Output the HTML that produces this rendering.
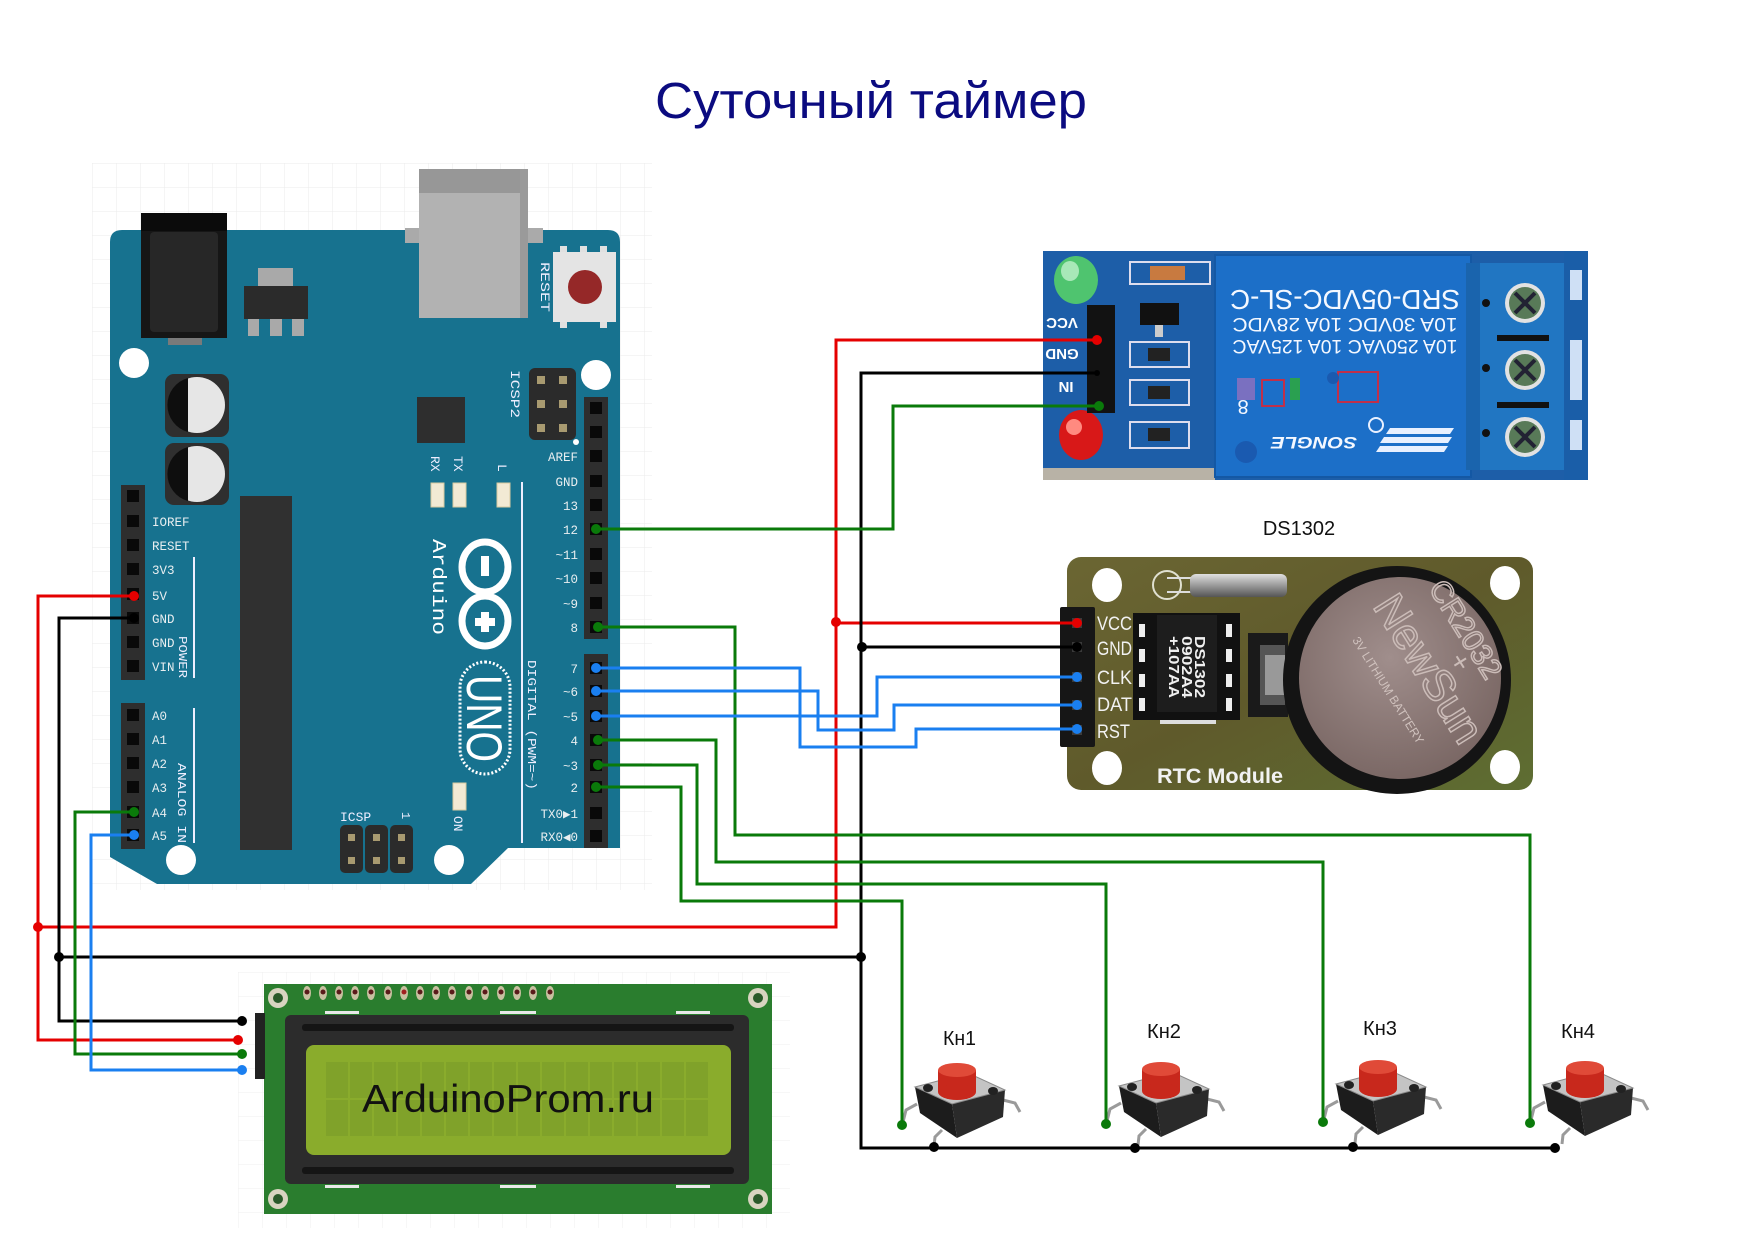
<!DOCTYPE html>
<html><head><meta charset="utf-8"><style>
html,body{margin:0;padding:0;background:#fff}
svg{display:block}
</style></head><body>
<svg width="1754" height="1240" viewBox="0 0 1754 1240" xmlns="http://www.w3.org/2000/svg">
<defs>
<pattern id="grid" width="24" height="24" patternUnits="userSpaceOnUse" x="92" y="163"><path d="M24 0H0V24" fill="none" stroke="#ebebeb" stroke-width="1"/></pattern>
<pattern id="grid2" width="24" height="24" patternUnits="userSpaceOnUse" x="238" y="972"><path d="M24 0H0V24" fill="none" stroke="#efefef" stroke-width="1"/></pattern>
<linearGradient id="rtcg" x1="0" y1="0" x2="1" y2="1"><stop offset="0" stop-color="#6b6633"/><stop offset="0.5" stop-color="#5f5a2b"/><stop offset="1" stop-color="#5e6e32"/></linearGradient>
<radialGradient id="coin" cx="0.45" cy="0.4" r="0.7"><stop offset="0" stop-color="#a08e8c"/><stop offset="1" stop-color="#75625f"/></radialGradient>
<linearGradient id="xtal" x1="0" y1="0" x2="0" y2="1"><stop offset="0" stop-color="#e0e0e0"/><stop offset="0.5" stop-color="#9a9a9a"/><stop offset="1" stop-color="#555"/></linearGradient>
</defs>
<rect width="1754" height="1240" fill="#fff"/>

<!-- Title -->
<text x="655" y="118" font-family="Liberation Sans, sans-serif" font-size="51" fill="#0b0b80" textLength="432" lengthAdjust="spacingAndGlyphs">Суточный таймер</text>

<!-- grid backgrounds -->
<rect x="92" y="163" width="560" height="727" fill="url(#grid)"/>
<rect x="238" y="972" width="552" height="256" fill="url(#grid2)"/>

<!-- ===== ARDUINO ===== -->
<path d="M122,230 H608 Q620,230 620,242 V848 H508 L471,884 H157 L110,857 V242 Q110,230 122,230 Z" fill="#17728f"/>
<rect x="141" y="213" width="86" height="125" fill="#161616"/>
<rect x="150" y="232" width="68" height="100" rx="4" fill="#272727"/>
<rect x="141" y="213" width="86" height="18" fill="#0b0b0b"/>
<rect x="168" y="338" width="34" height="7" fill="#7a7a7a"/>
<rect x="405" y="228" width="138" height="15" fill="#aaa"/>
<rect x="419" y="169" width="109" height="149" fill="#b2b2b2"/>
<rect x="419" y="169" width="109" height="24" fill="#979797"/>
<rect x="520" y="169" width="8" height="149" fill="#9a9a9a"/>
<rect x="258" y="268" width="35" height="18" fill="#a9a9a9"/>
<rect x="244" y="286" width="64" height="33" fill="#2b2b2b"/>
<rect x="248" y="319" width="11" height="17" fill="#a9a9a9"/>
<rect x="270" y="319" width="12" height="17" fill="#a9a9a9"/>
<rect x="292" y="319" width="12" height="17" fill="#a9a9a9"/>
<rect x="560" y="246" width="7" height="8" fill="#e0e0e0"/><rect x="580" y="246" width="7" height="8" fill="#e0e0e0"/><rect x="600" y="246" width="7" height="8" fill="#e0e0e0"/>
<rect x="560" y="320" width="7" height="8" fill="#e0e0e0"/><rect x="600" y="320" width="7" height="8" fill="#e0e0e0"/>
<rect x="553" y="252" width="63" height="70" fill="#e4e4e4"/>
<circle cx="585" cy="287" r="17" fill="#952828"/>
<text transform="translate(541,262) rotate(90)" font-family="Liberation Mono, monospace" font-size="13" fill="#eef" textLength="50" lengthAdjust="spacingAndGlyphs">RESET</text>
<circle cx="134" cy="363" r="15" fill="#fff"/>
<circle cx="596" cy="375" r="15" fill="#fff"/>
<circle cx="181" cy="860" r="15" fill="#fff"/>
<circle cx="449" cy="860" r="15" fill="#fff"/>
<rect x="165" y="374" width="64" height="63" rx="9" fill="#2f2f2f"/>
<circle cx="197" cy="405" r="28" fill="#e6e6e6"/>
<path d="M188,378 A28,28 0 0 0 188,432 Z" fill="#0e0e0e"/>
<rect x="165" y="443" width="64" height="62" rx="9" fill="#2f2f2f"/>
<circle cx="197" cy="474" r="28" fill="#e6e6e6"/>
<path d="M188,447 A28,28 0 0 0 188,501 Z" fill="#0e0e0e"/>
<rect x="417" y="397" width="48" height="46" fill="#2e2e2e"/>
<rect x="240" y="496" width="52" height="354" fill="#303030"/>
<rect x="529" y="368" width="47" height="72" rx="6" fill="#2b2b2b"/>
<g fill="#a89a70"><rect x="537" y="376" width="8" height="8"/><rect x="559" y="376" width="8" height="8"/><rect x="537" y="400" width="8" height="8"/><rect x="559" y="400" width="8" height="8"/><rect x="537" y="424" width="8" height="8"/><rect x="559" y="424" width="8" height="8"/></g>
<circle cx="576" cy="442" r="3" fill="#fff"/>
<text transform="translate(511,370) rotate(90)" font-family="Liberation Mono, monospace" font-size="13" fill="#eef" textLength="48" lengthAdjust="spacingAndGlyphs">ICSP2</text>
<rect x="431" y="483" width="13" height="24" fill="#f2ead4" stroke="#d8c9a0"/>
<rect x="453" y="483" width="13" height="24" fill="#f2ead4" stroke="#d8c9a0"/>
<rect x="497" y="483" width="13" height="24" fill="#f2ead4" stroke="#d8c9a0"/>
<text transform="translate(431,456) rotate(90)" font-family="Liberation Mono, monospace" font-size="13" fill="#eef">RX</text>
<text transform="translate(454,456) rotate(90)" font-family="Liberation Mono, monospace" font-size="13" fill="#eef">TX</text>
<text transform="translate(498,464) rotate(90)" font-family="Liberation Mono, monospace" font-size="13" fill="#eef">L</text>
<rect x="453" y="783" width="13" height="27" fill="#f2ead4" stroke="#d8c9a0"/>
<text transform="translate(454,816) rotate(90)" font-family="Liberation Mono, monospace" font-size="13" fill="#eef">ON</text>
<g fill="#2b2b2b"><rect x="340" y="825" width="23" height="48" rx="5"/><rect x="365" y="825" width="23" height="48" rx="5"/><rect x="390" y="825" width="23" height="48" rx="5"/></g>
<g fill="#a89a70"><rect x="348" y="834" width="7" height="7"/><rect x="373" y="834" width="7" height="7"/><rect x="398" y="834" width="7" height="7"/><rect x="348" y="857" width="7" height="7"/><rect x="373" y="857" width="7" height="7"/><rect x="398" y="857" width="7" height="7"/></g>
<text x="340" y="821" font-family="Liberation Mono, monospace" font-size="13" fill="#eef">ICSP</text>
<text transform="translate(402,812) rotate(90)" font-family="Liberation Mono, monospace" font-size="12" fill="#eef">1</text>
<text transform="translate(433,539) rotate(90)" font-family="Liberation Mono, monospace" font-size="19" fill="#fff" textLength="96" lengthAdjust="spacingAndGlyphs">Arduino</text>
<ellipse cx="485" cy="567" rx="23" ry="25" fill="none" stroke="#fff" stroke-width="7"/>
<ellipse cx="485" cy="621" rx="23" ry="25" fill="none" stroke="#fff" stroke-width="7"/>
<rect x="481" y="556" width="8" height="20" fill="#fff"/>
<rect x="481" y="612" width="8" height="20" fill="#fff"/><rect x="475" y="618" width="20" height="8" fill="#fff"/>
<rect x="460" y="662" width="50" height="112" rx="25" fill="none" stroke="#fff" stroke-width="3" stroke-dasharray="2,2"/>
<text transform="translate(467,675) rotate(90)" font-family="Liberation Sans, sans-serif" font-size="50" fill="#fff" textLength="87" lengthAdjust="spacingAndGlyphs">UNO</text>
<rect x="193" y="557" width="2" height="121" fill="#eef"/>
<rect x="193" y="708" width="2" height="135" fill="#eef"/>
<rect x="521" y="482" width="2" height="361" fill="#eef"/>
<text transform="translate(179,636) rotate(90)" font-family="Liberation Mono, monospace" font-size="12" fill="#eef" textLength="42" lengthAdjust="spacingAndGlyphs">POWER</text>
<text transform="translate(178,763) rotate(90)" font-family="Liberation Mono, monospace" font-size="12" fill="#eef" textLength="80" lengthAdjust="spacingAndGlyphs">ANALOG IN</text>
<text transform="translate(528,660) rotate(90)" font-family="Liberation Mono, monospace" font-size="12" fill="#eef" textLength="130" lengthAdjust="spacingAndGlyphs">DIGITAL (PWM=~)</text>
<rect x="121" y="485" width="24" height="195" fill="#2e2e2e"/>
<rect x="121" y="703" width="24" height="146" fill="#2e2e2e"/>
<rect x="584" y="397" width="24" height="242" fill="#2e2e2e"/>
<rect x="584" y="654" width="24" height="194" fill="#2e2e2e"/>
<g fill="#090909">
<rect x="127" y="490" width="12" height="12"/><rect x="127" y="515" width="12" height="12"/><rect x="127" y="539" width="12" height="12"/><rect x="127" y="563" width="12" height="12"/><rect x="127" y="588" width="12" height="12"/><rect x="127" y="612" width="12" height="12"/><rect x="127" y="636" width="12" height="12"/><rect x="127" y="660" width="12" height="12"/>
<rect x="127" y="709" width="12" height="12"/><rect x="127" y="733" width="12" height="12"/><rect x="127" y="757" width="12" height="12"/><rect x="127" y="781" width="12" height="12"/><rect x="127" y="806" width="12" height="12"/><rect x="127" y="829" width="12" height="12"/>
<rect x="590" y="402" width="12" height="12"/><rect x="590" y="426" width="12" height="12"/><rect x="590" y="450" width="12" height="12"/><rect x="590" y="475" width="12" height="12"/><rect x="590" y="499" width="12" height="12"/><rect x="590" y="523" width="12" height="12"/><rect x="590" y="548" width="12" height="12"/><rect x="590" y="572" width="12" height="12"/><rect x="590" y="597" width="12" height="12"/><rect x="590" y="621" width="12" height="12"/>
<rect x="590" y="662" width="12" height="12"/><rect x="590" y="685" width="12" height="12"/><rect x="590" y="710" width="12" height="12"/><rect x="590" y="734" width="12" height="12"/><rect x="590" y="759" width="12" height="12"/><rect x="590" y="781" width="12" height="12"/><rect x="590" y="807" width="12" height="12"/><rect x="590" y="830" width="12" height="12"/>
</g>
<g font-family="Liberation Mono, monospace" font-size="12.5" fill="#e8eef0">
<text x="152" y="526">IOREF</text><text x="152" y="550">RESET</text><text x="152" y="574">3V3</text><text x="152" y="600">5V</text><text x="152" y="623">GND</text><text x="152" y="647">GND</text><text x="152" y="671">VIN</text>
<text x="152" y="720">A0</text><text x="152" y="744">A1</text><text x="152" y="768">A2</text><text x="152" y="792">A3</text><text x="152" y="817">A4</text><text x="152" y="840">A5</text>
</g>
<g font-family="Liberation Mono, monospace" font-size="12.5" fill="#e8eef0" text-anchor="end">
<text x="578" y="461">AREF</text><text x="578" y="486">GND</text><text x="578" y="510">13</text><text x="578" y="534">12</text><text x="578" y="559">~11</text><text x="578" y="583">~10</text><text x="578" y="608">~9</text><text x="578" y="632">8</text>
<text x="578" y="673">7</text><text x="578" y="696">~6</text><text x="578" y="721">~5</text><text x="578" y="745">4</text><text x="578" y="770">~3</text><text x="578" y="792">2</text><text x="578" y="818">TX0▶1</text><text x="578" y="841">RX0◀0</text>
</g>

<!-- ===== RELAY ===== -->
<rect x="1043" y="251" width="545" height="229" fill="#1d5ea8"/>
<rect x="1043" y="468" width="172" height="12" fill="#b8b2a6"/>
<ellipse cx="1076" cy="280" rx="22" ry="24" fill="#4fc46f"/>
<ellipse cx="1070" cy="271" rx="9" ry="10" fill="#a8e8b8"/>
<ellipse cx="1081" cy="435" rx="22" ry="25" fill="#d81818"/>
<ellipse cx="1074" cy="427" rx="8" ry="8" fill="#ff8a80"/>
<rect x="1130" y="262" width="80" height="22" fill="none" stroke="#dde" stroke-width="2"/>
<rect x="1150" y="266" width="35" height="14" fill="#c87a40"/>
<rect x="1140" y="303" width="39" height="22" fill="#111"/>
<rect x="1155" y="325" width="8" height="12" fill="#ccc"/>
<rect x="1130" y="342" width="59" height="25" fill="none" stroke="#dde" stroke-width="2"/><rect x="1148" y="348" width="22" height="13" fill="#222"/>
<rect x="1130" y="380" width="59" height="25" fill="none" stroke="#dde" stroke-width="2"/><rect x="1148" y="386" width="22" height="13" fill="#222"/>
<rect x="1130" y="422" width="59" height="26" fill="none" stroke="#dde" stroke-width="2"/><rect x="1148" y="428" width="22" height="13" fill="#222"/>
<rect x="1087" y="305" width="28" height="108" fill="#121212"/>
<g font-family="Liberation Sans, sans-serif" font-weight="bold" font-size="15" fill="#fff" text-anchor="middle">
<text transform="translate(1062,318) rotate(180)">VCC</text>
<text transform="translate(1062,349) rotate(180)">GND</text>
<text transform="translate(1066,382) rotate(180)">IN</text>
</g>
<rect x="1215" y="255" width="256" height="222" fill="#1c6fc8" stroke="#1458a4" stroke-width="2"/>
<g font-family="Liberation Sans, sans-serif" fill="#f4f8ff" text-anchor="middle">
<text transform="translate(1345,290) rotate(180)" font-size="28" textLength="230" lengthAdjust="spacingAndGlyphs">SRD-05VDC-SL-C</text>
<text transform="translate(1345,318) rotate(180)" font-size="19" textLength="225" lengthAdjust="spacingAndGlyphs">10A 30VDC  10A 28VDC</text>
<text transform="translate(1345,340) rotate(180)" font-size="19" textLength="225" lengthAdjust="spacingAndGlyphs">10A 250VAC  10A 125VAC</text>
<text transform="translate(1314,437) rotate(180)" font-size="17" font-style="italic" font-weight="bold" textLength="86" lengthAdjust="spacingAndGlyphs">SONGLE</text>
<text transform="translate(1243,400) rotate(180)" font-size="20">8</text>
</g>
<g fill="#e8f0ff"><polygon points="1380,446 1448,446 1444,452 1376,452"/><polygon points="1384,437 1452,437 1448,443 1380,443"/><polygon points="1390,428 1454,428 1450,434 1386,434"/></g>
<circle cx="1376" cy="425" r="7" fill="none" stroke="#e8f0ff" stroke-width="2"/>
<rect x="1262" y="380" width="22" height="26" fill="none" stroke="#c0304a" stroke-width="2"/>
<rect x="1237" y="378" width="18" height="22" fill="#7a70c0"/>
<rect x="1290" y="378" width="10" height="22" fill="#2aa050"/>
<rect x="1338" y="372" width="40" height="30" fill="none" stroke="#c0304a" stroke-width="2"/>
<circle cx="1246" cy="452" r="11" fill="#1a5ab0"/>
<circle cx="1333" cy="378" r="6" fill="#1a5ab0"/>
<rect x="1466" y="263" width="98" height="207" fill="#2176c2"/>
<rect x="1466" y="263" width="14" height="207" fill="#1a64ad"/>
<g fill="#111"><circle cx="1486" cy="303" r="4"/><circle cx="1486" cy="368" r="4"/><circle cx="1486" cy="433" r="4"/></g>
<g fill="#111"><rect x="1497" y="335" width="52" height="6"/><rect x="1497" y="402" width="52" height="6"/></g>
<g><circle cx="1525" cy="303" r="20" fill="#e2e2e2"/><circle cx="1525" cy="303" r="16" fill="#587a58"/><path d="M1515,293 L1535,313 M1535,293 L1515,313" stroke="#223" stroke-width="4"/></g>
<g><circle cx="1525" cy="370" r="20" fill="#e2e2e2"/><circle cx="1525" cy="370" r="16" fill="#587a58"/><path d="M1515,360 L1535,380 M1535,360 L1515,380" stroke="#223" stroke-width="4"/></g>
<g><circle cx="1525" cy="437" r="20" fill="#e2e2e2"/><circle cx="1525" cy="437" r="16" fill="#587a58"/><path d="M1515,427 L1535,447 M1535,427 L1515,447" stroke="#223" stroke-width="4"/></g>
<rect x="1564" y="251" width="24" height="229" fill="#1a5ea8"/>
<g fill="#cfe0f5"><rect x="1570" y="270" width="12" height="30"/><rect x="1570" y="340" width="12" height="60"/><rect x="1570" y="420" width="12" height="30"/></g>

<!-- ===== RTC ===== -->
<text x="1299" y="535" text-anchor="middle" font-family="Liberation Sans, sans-serif" font-size="20" fill="#111">DS1302</text>
<rect x="1067" y="557" width="466" height="233" rx="14" fill="url(#rtcg)"/>
<ellipse cx="1107" cy="585" rx="15" ry="17" fill="#fff"/>
<ellipse cx="1505" cy="583" rx="15" ry="17" fill="#fff"/>
<ellipse cx="1107" cy="768" rx="15" ry="17" fill="#fff"/>
<ellipse cx="1505" cy="767" rx="15" ry="17" fill="#fff"/>
<circle cx="1167" cy="585" r="14" fill="none" stroke="#e0e0d0" stroke-width="2"/>
<path d="M1167,578 H1192 M1167,592 H1192" stroke="#ddd" stroke-width="2"/>
<rect x="1190" y="574" width="97" height="23" rx="6" fill="url(#xtal)"/>
<rect x="1133" y="613" width="107" height="107" fill="#111"/>
<g fill="#eee"><rect x="1139" y="624" width="6" height="13"/><rect x="1139" y="649" width="6" height="13"/><rect x="1139" y="674" width="6" height="13"/><rect x="1139" y="698" width="6" height="13"/><rect x="1226" y="624" width="6" height="13"/><rect x="1226" y="649" width="6" height="13"/><rect x="1226" y="674" width="6" height="13"/><rect x="1226" y="698" width="6" height="13"/></g>
<rect x="1157" y="615" width="60" height="97" fill="#1d1d1d"/>
<rect x="1160" y="720" width="56" height="4" fill="#ddd"/>
<g font-family="Liberation Sans, sans-serif" font-weight="bold" font-size="15" fill="#f0f0f0">
<text transform="translate(1195,636) rotate(90)" textLength="62" lengthAdjust="spacingAndGlyphs">DS1302</text>
<text transform="translate(1182,636) rotate(90)" textLength="62" lengthAdjust="spacingAndGlyphs">0902A4</text>
<text transform="translate(1169,636) rotate(90)" textLength="62" lengthAdjust="spacingAndGlyphs">+107AA</text>
</g>
<rect x="1248" y="633" width="40" height="84" fill="#1a1a1a"/>
<rect x="1260" y="645" width="25" height="60" fill="#555"/>
<rect x="1265" y="655" width="20" height="40" fill="#999"/>
<circle cx="1397" cy="680" r="114" fill="#141414"/>
<circle cx="1400" cy="678" r="101" fill="url(#coin)"/>
<g font-family="Liberation Sans, sans-serif" fill="none" stroke="#cbbcb8" stroke-width="1.5">
<text transform="translate(1428,588) rotate(58)" font-size="30">CR2032</text>
<text transform="translate(1372,606) rotate(58)" font-size="44">NewSun</text>
</g>
<text transform="translate(1352,640) rotate(58)" font-family="Liberation Sans, sans-serif" font-size="12" fill="#d0c2be">3V LITHIUM BATTERY</text>
<text transform="translate(1448,660) rotate(58)" font-family="Liberation Sans, sans-serif" font-size="28" fill="#cbbcb8">+</text>
<rect x="1060" y="607" width="35" height="140" rx="2" fill="#161616"/>
<g fill="#3a3a3a"><rect x="1072" y="618" width="10" height="10"/><rect x="1072" y="642" width="10" height="10"/><rect x="1072" y="672" width="10" height="10"/><rect x="1072" y="700" width="10" height="10"/><rect x="1072" y="725" width="10" height="10"/></g>
<g font-family="Liberation Sans, sans-serif" font-size="19" fill="#f2f2f2">
<text x="1097" y="630" textLength="35" lengthAdjust="spacingAndGlyphs">VCC</text>
<text x="1097" y="655" textLength="35" lengthAdjust="spacingAndGlyphs">GND</text>
<text x="1097" y="684" textLength="35" lengthAdjust="spacingAndGlyphs">CLK</text>
<text x="1097" y="711" textLength="35" lengthAdjust="spacingAndGlyphs">DAT</text>
<text x="1097" y="738" textLength="33" lengthAdjust="spacingAndGlyphs">RST</text>
</g>
<text x="1157" y="783" font-family="Liberation Sans, sans-serif" font-weight="bold" font-size="21" fill="#f2f2f2" textLength="126" lengthAdjust="spacingAndGlyphs">RTC Module</text>

<!-- ===== LCD ===== -->
<rect x="264" y="984" width="508" height="230" fill="#2a7d2e"/>
<g>
<circle cx="278" cy="998" r="10" fill="#d8d4c0"/><circle cx="278" cy="998" r="5" fill="#2a5a2a"/>
<circle cx="758" cy="998" r="10" fill="#d8d4c0"/><circle cx="758" cy="998" r="5" fill="#2a5a2a"/>
<circle cx="278" cy="1199" r="10" fill="#d8d4c0"/><circle cx="278" cy="1199" r="5" fill="#2a5a2a"/>
<circle cx="758" cy="1199" r="10" fill="#d8d4c0"/><circle cx="758" cy="1199" r="5" fill="#2a5a2a"/>
</g>
<g fill="#c8c0a0">
<ellipse cx="307" cy="993" rx="4" ry="7"/><ellipse cx="323" cy="993" rx="4" ry="7"/><ellipse cx="339" cy="993" rx="4" ry="7"/><ellipse cx="355" cy="993" rx="4" ry="7"/><ellipse cx="371" cy="993" rx="4" ry="7"/><ellipse cx="388" cy="993" rx="4" ry="7"/><ellipse cx="404" cy="993" rx="4" ry="7"/><ellipse cx="420" cy="993" rx="4" ry="7"/><ellipse cx="436" cy="993" rx="4" ry="7"/><ellipse cx="452" cy="993" rx="4" ry="7"/><ellipse cx="469" cy="993" rx="4" ry="7"/><ellipse cx="485" cy="993" rx="4" ry="7"/><ellipse cx="501" cy="993" rx="4" ry="7"/><ellipse cx="517" cy="993" rx="4" ry="7"/><ellipse cx="533" cy="993" rx="4" ry="7"/><ellipse cx="550" cy="993" rx="4" ry="7"/>
</g>
<g fill="#5a1a1a">
<circle cx="307" cy="992" r="2.5"/><circle cx="323" cy="992" r="2.5"/><circle cx="339" cy="992" r="2.5"/><circle cx="355" cy="992" r="2.5"/><circle cx="371" cy="992" r="2.5"/><circle cx="388" cy="992" r="2.5"/><circle cx="404" cy="992" r="2.5" fill="#a02020"/><circle cx="420" cy="992" r="2.5"/><circle cx="436" cy="992" r="2.5"/><circle cx="452" cy="992" r="2.5"/><circle cx="469" cy="992" r="2.5"/><circle cx="485" cy="992" r="2.5"/><circle cx="501" cy="992" r="2.5"/><circle cx="517" cy="992" r="2.5"/><circle cx="533" cy="992" r="2.5"/><circle cx="550" cy="992" r="2.5"/>
</g>
<g fill="#e8e8e8"><rect x="325" y="1011" width="34" height="3"/><rect x="500" y="1011" width="36" height="3"/><rect x="676" y="1011" width="34" height="3"/><rect x="325" y="1185" width="34" height="3"/><rect x="500" y="1185" width="36" height="3"/><rect x="676" y="1185" width="34" height="3"/></g>
<rect x="285" y="1015" width="464" height="169" rx="6" fill="#2c2c2c"/>
<rect x="302" y="1024" width="432" height="7" rx="3" fill="#151515"/>
<rect x="302" y="1167" width="432" height="7" rx="3" fill="#151515"/>
<rect x="306" y="1045" width="425" height="110" rx="8" fill="#8aac2c"/>
<g fill="#80a22a">
<rect x="326" y="1062" width="22" height="36"/><rect x="350" y="1062" width="22" height="36"/><rect x="374" y="1062" width="22" height="36"/><rect x="398" y="1062" width="22" height="36"/><rect x="422" y="1062" width="22" height="36"/><rect x="446" y="1062" width="22" height="36"/><rect x="470" y="1062" width="22" height="36"/><rect x="494" y="1062" width="22" height="36"/><rect x="518" y="1062" width="22" height="36"/><rect x="542" y="1062" width="22" height="36"/><rect x="566" y="1062" width="22" height="36"/><rect x="590" y="1062" width="22" height="36"/><rect x="614" y="1062" width="22" height="36"/><rect x="638" y="1062" width="22" height="36"/><rect x="662" y="1062" width="22" height="36"/><rect x="686" y="1062" width="22" height="36"/>
<rect x="326" y="1100" width="22" height="36"/><rect x="350" y="1100" width="22" height="36"/><rect x="374" y="1100" width="22" height="36"/><rect x="398" y="1100" width="22" height="36"/><rect x="422" y="1100" width="22" height="36"/><rect x="446" y="1100" width="22" height="36"/><rect x="470" y="1100" width="22" height="36"/><rect x="494" y="1100" width="22" height="36"/><rect x="518" y="1100" width="22" height="36"/><rect x="542" y="1100" width="22" height="36"/><rect x="566" y="1100" width="22" height="36"/><rect x="590" y="1100" width="22" height="36"/><rect x="614" y="1100" width="22" height="36"/><rect x="638" y="1100" width="22" height="36"/><rect x="662" y="1100" width="22" height="36"/><rect x="686" y="1100" width="22" height="36"/>
</g>
<text x="508" y="1112" text-anchor="middle" font-family="Liberation Sans, sans-serif" font-size="39" fill="#111" textLength="292" lengthAdjust="spacingAndGlyphs">ArduinoProm.ru</text>
<rect x="255" y="1013" width="10" height="66" fill="#222"/>

<!-- ===== BUTTONS ===== -->
<g id="btn1">
<path d="M917,1104 L906,1110 L903,1122" fill="none" stroke="#9a9a9a" stroke-width="3"/>
<path d="M1003,1100 L1015,1103 L1020,1112" fill="none" stroke="#9a9a9a" stroke-width="3"/>
<path d="M942,1130 L935,1137 L934,1146" fill="none" stroke="#9a9a9a" stroke-width="3"/>
<polygon points="915,1087 952,1104 957,1138 920,1113" fill="#1c1c1c"/>
<polygon points="952,1104 1005,1090 1003,1117 957,1138" fill="#2a2a2a"/>
<polygon points="915,1087 968,1073 1005,1090 952,1104" fill="#c4c4c4" stroke="#8a8a8a" stroke-width="1"/>
<ellipse cx="928" cy="1088" rx="5" ry="4" fill="#222"/>
<ellipse cx="993" cy="1091" rx="5" ry="4" fill="#222"/>
<rect x="938" y="1070" width="38" height="22" fill="#c8281c"/>
<ellipse cx="957" cy="1092" rx="19" ry="8" fill="#c8281c"/>
<ellipse cx="957" cy="1070" rx="19" ry="7" fill="#e04a38"/>
</g>
<use href="#btn1" transform="translate(204,-1)"/>
<use href="#btn1" transform="translate(421,-3)"/>
<use href="#btn1" transform="translate(628,-2)"/>
<g font-family="Liberation Sans, sans-serif" font-size="20" fill="#111">
<text x="943" y="1045" textLength="33" lengthAdjust="spacingAndGlyphs">Кн1</text>
<text x="1147" y="1038" textLength="34" lengthAdjust="spacingAndGlyphs">Кн2</text>
<text x="1363" y="1035" textLength="34" lengthAdjust="spacingAndGlyphs">Кн3</text>
<text x="1561" y="1038" textLength="34" lengthAdjust="spacingAndGlyphs">Кн4</text>
</g>

<!-- ===== WIRES ===== -->
<g fill="none" stroke-width="3" stroke-linejoin="miter">
<polyline stroke="#e50000" points="134,596 38,596 38,1040 238,1040"/>
<polyline stroke="#e50000" points="38,927 836,927 836,340 1097,340"/>
<polyline stroke="#e50000" points="836,623 1077,623"/>
<polyline stroke="#000" points="134,618 59,618 59,1021 242,1021"/>
<polyline stroke="#000" points="59,957 861,957"/>
<polyline stroke="#000" points="1097,373 861,373 861,1148 1555,1148"/>
<polyline stroke="#000" points="861,647 1077,647"/>
<polyline stroke="#0a7a0a" points="1099,406 893,406 893,529 596,529"/>
<polyline stroke="#0a7a0a" points="596,627 735,627 735,835 1530,835 1530,1123"/>
<polyline stroke="#0a7a0a" points="596,740 716,740 716,862 1323,862 1323,1122"/>
<polyline stroke="#0a7a0a" points="596,765 697,765 697,884 1106,884 1106,1124"/>
<polyline stroke="#0a7a0a" points="596,787 681,787 681,901 902,901 902,1125"/>
<polyline stroke="#0a7a0a" points="134,812 75,812 75,1054 242,1054"/>
<polyline stroke="#1a7ff0" points="134,835 91,835 91,1070 242,1070"/>
<polyline stroke="#1a7ff0" points="596,668 800,668 800,747 916,747 916,729 1077,729"/>
<polyline stroke="#1a7ff0" points="596,691 818,691 818,730 894,730 894,705 1077,705"/>
<polyline stroke="#1a7ff0" points="596,716 877,716 877,677 1077,677"/>
</g>
<g fill="#e50000"><circle cx="134" cy="596" r="5"/><circle cx="38" cy="927" r="5"/><circle cx="836" cy="622" r="5"/><circle cx="1097" cy="340" r="5"/><circle cx="1077" cy="623" r="5"/><circle cx="238" cy="1040" r="5"/></g>
<g fill="#000"><circle cx="134" cy="618" r="5"/><circle cx="59" cy="957" r="5"/><circle cx="861" cy="957" r="5"/><circle cx="862" cy="647" r="5"/><circle cx="1077" cy="647" r="5"/><circle cx="1097" cy="373" r="3"/><circle cx="242" cy="1021" r="5"/>
<circle cx="934" cy="1147" r="5"/><circle cx="1135" cy="1148" r="5"/><circle cx="1353" cy="1147" r="5"/><circle cx="1555" cy="1148" r="5"/></g>
<g fill="#0a7a0a"><circle cx="1099" cy="406" r="5"/><circle cx="596" cy="529" r="5"/><circle cx="598" cy="627" r="5"/><circle cx="598" cy="740" r="5"/><circle cx="598" cy="765" r="5"/><circle cx="596" cy="787" r="5"/><circle cx="134" cy="812" r="5"/><circle cx="242" cy="1054" r="5"/>
<circle cx="902" cy="1125" r="5"/><circle cx="1106" cy="1124" r="5"/><circle cx="1323" cy="1122" r="5"/><circle cx="1530" cy="1123" r="5"/></g>
<g fill="#1a7ff0"><circle cx="134" cy="835" r="5"/><circle cx="242" cy="1070" r="5"/><circle cx="596" cy="668" r="5"/><circle cx="596" cy="691" r="5"/><circle cx="596" cy="716" r="5"/><circle cx="1077" cy="677" r="5"/><circle cx="1077" cy="705" r="5"/><circle cx="1077" cy="729" r="5"/></g>
</svg>
</body></html>
